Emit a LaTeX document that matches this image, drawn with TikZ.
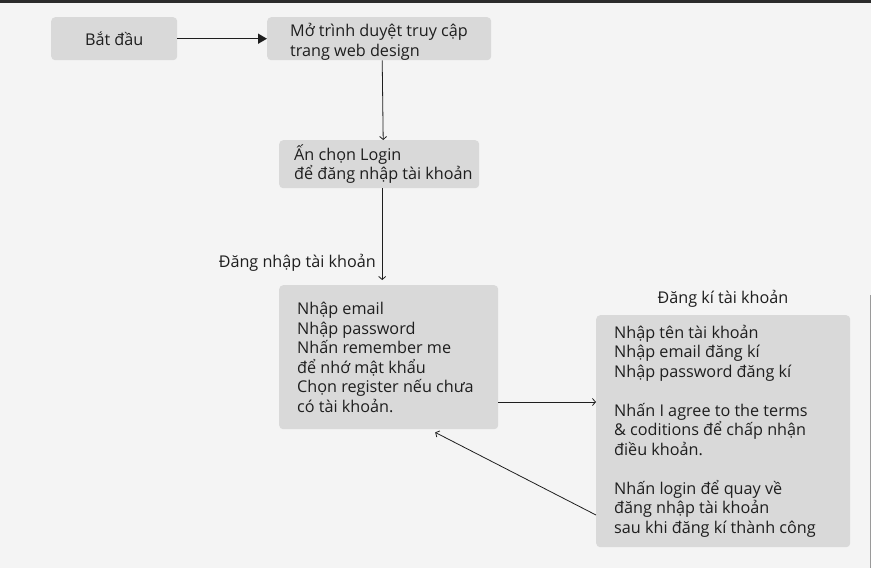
\documentclass[tikz,border=0pt]{standalone}
\usepackage{fontspec}
\setmainfont{Open Sans}
\usetikzlibrary{arrows.meta,calc}
\definecolor{bg}{HTML}{F4F4F4}
\definecolor{boxgray}{HTML}{D9D9D9}
\definecolor{ink}{HTML}{1E1E1E}
\definecolor{topbar}{HTML}{2B2B2B}
\definecolor{edge}{HTML}{9A9A9A}
\newcommand{\bxtext}[3]{\hspace*{#1pt}\parbox[c]{\dimexpr#2pt-#1pt\relax}{\raggedright #3}}
\tikzset{
  box/.style={fill=boxgray, rounded corners=4pt, inner sep=0pt, anchor=north west, text=ink,
              font=\fontsize{16.2}{19.5}\selectfont},
  lbl/.style={inner sep=0pt, text=ink, font=\fontsize{16.2}{19.5}\selectfont},
  arrbig/.style={draw=ink, line width=1.5pt, -{Triangle[length=9pt,width=10pt]}},
  arr/.style={draw=ink, line width=0.8pt, -{Straight Barb[length=3pt,width=7pt]}}
}
\begin{document}
\begin{tikzpicture}[x=1pt,y=-1pt]
\fill[bg] (0,0) rectangle (871,568);
\fill[topbar] (0,0) rectangle (871,2.5);
\draw[edge, line width=1pt] (870,295) -- (870,568);

\node[box, minimum width=126pt, minimum height=43pt] (b1) at (51,17) {Bắt đầu};
\node[box, minimum width=224pt, minimum height=43pt] (b2) at (267,17)
  {\bxtext{23}{224}{\vspace*{6pt}Mở trình duyệt truy cập\\trang web design}};
\node[box, minimum width=200pt, minimum height=48pt] (b3) at (279,140)
  {\bxtext{15}{200}{Ấn chọn Login\\để đăng nhập tài khoản}};
\node[box, minimum width=219pt, minimum height=144pt] (b4) at (279,285)
  {\bxtext{18}{219}{Nhập email\\Nhập password\\Nhấn remember me\\để nhớ mật khẩu\\Chọn register nếu chưa\\có tài khoản.}};
\node[box, minimum width=254pt, minimum height=232pt] (b5) at (596,315)
  {\bxtext{18}{254}{Nhập tên tài khoản\\Nhập email đăng kí\\Nhập password đăng kí\\[\baselineskip]Nhấn I agree to the terms\\\& coditions để chấp nhận\\điều khoản.\\[\baselineskip]Nhấn login để quay về\\đăng nhập tài khoản\\sau khi đăng kí thành công}};

\node[lbl, anchor=east] (l1) at (376,263) {Đăng nhập tài khoản};
\node[lbl] (l2) at (723,299) {Đăng kí tài khoản};

\coordinate (y402) at (0,402);
\coordinate (y515) at (0,515);

\draw[arrbig] (b1.east) -- (b2.west);
\draw[arr] ([xshift=3pt]b2.south) -- ([xshift=4pt]b3.north);
\draw[arr] ([xshift=3pt]b3.south) -- ([xshift=-6.5pt,yshift=5pt]b4.north);
\draw[arr] (b4.east |- y402) -- (b5.west |- y402);
\draw[arr] (b5.west |- y515) -- ($(b4.south)+(46.5,3)$);
\end{tikzpicture}
\end{document}
